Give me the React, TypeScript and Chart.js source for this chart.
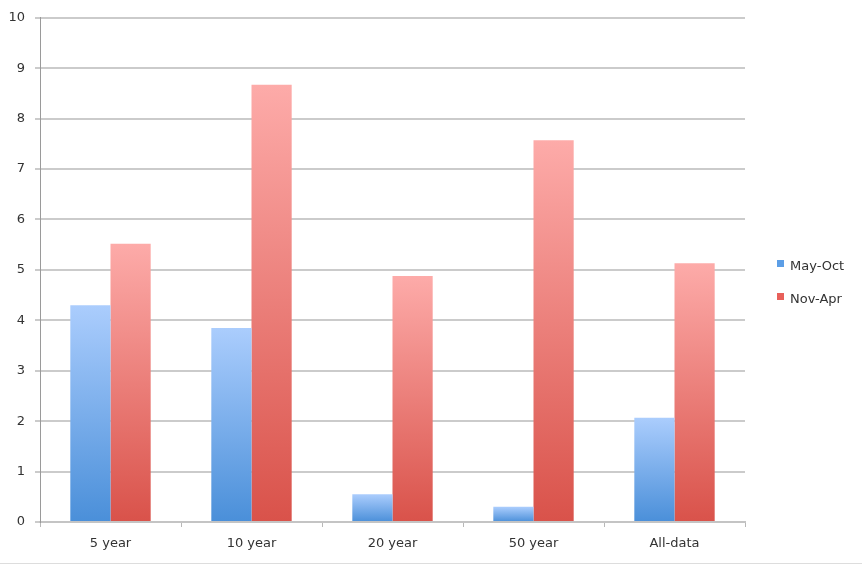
import React, { useEffect, useRef } from "react";
import { Chart, registerables } from "chart.js";

Chart.register(...registerables);

const categories = ["5 year", "10 year", "20 year", "50 year", "All-data"];
const mayOct = [4.3, 3.85, 0.55, 0.3, 2.07];
const novApr = [5.52, 8.67, 4.88, 7.57, 5.13];
const seriesNames = ["May-Oct", "Nov-Apr"];
const yTicksMax = 10;

const FONT = "'DejaVu Sans', sans-serif";

function gradientFill(top: string, bottom: string, solid: string) {
  return (ctx: any) => {
    const chart = ctx.chart;
    const area = chart.chartArea;
    const ys = chart.scales && chart.scales.y;
    if (!area || !ys || ctx.type !== "data") return solid;
    const v = ctx.raw as number;
    const yTop = ys.getPixelForValue(v);
    const yBot = ys.getPixelForValue(0);
    if (!isFinite(yTop) || !isFinite(yBot) || yTop === yBot) return solid;
    const g = chart.ctx.createLinearGradient(0, yTop, 0, yBot);
    g.addColorStop(0, top);
    g.addColorStop(1, bottom);
    return g;
  };
}

const legendColors = ["#5c9ee6", "#e8605a"];

const legendPlugin = {
  id: "customLegend",
  afterDraw(chart: any) {
    const c = chart.ctx;
    c.save();
    c.font = `13px ${FONT}`;
    c.textBaseline = "middle";
    c.textAlign = "left";
    const items = [
      { y: 267, name: seriesNames[0], color: legendColors[0] },
      { y: 300, name: seriesNames[1], color: legendColors[1] },
    ];
    for (const it of items) {
      c.fillStyle = it.color;
      c.fillRect(777, it.y - 7, 7, 7);
      c.fillStyle = "#333333";
      c.fillText(it.name, 790, it.y);
    }
    c.strokeStyle = "#dddddd";
    c.lineWidth = 1;
    c.beginPath();
    c.moveTo(0, 563.5);
    c.lineTo(chart.width, 563.5);
    c.stroke();
    c.restore();
  },
};

export default function App() {
  const ref = useRef<HTMLCanvasElement>(null);
  useEffect(() => {
    if (!ref.current) return;
    const chart = new Chart(ref.current, {
      type: "bar",
      data: {
        labels: categories,
        datasets: [
          {
            label: seriesNames[0],
            data: mayOct,
            backgroundColor: gradientFill("#abcdfd", "#4a8fd9", legendColors[0]),
            borderWidth: 0,
            categoryPercentage: 0.57,
            barPercentage: 1,
          },
          {
            label: seriesNames[1],
            data: novApr,
            backgroundColor: gradientFill("#fdaba9", "#d9524a", legendColors[1]),
            borderWidth: 0,
            categoryPercentage: 0.57,
            barPercentage: 1,
          },
        ],
      },
      options: {
        animation: false,
        responsive: true,
        maintainAspectRatio: false,
        layout: { padding: { top: 17, right: 117, left: 0, bottom: 0 } },
        plugins: { legend: { display: false }, tooltip: { enabled: false } },
        scales: {
          x: {
            afterFit: (s: any) => {
              s.height = 42;
            },
            grid: {
              display: true,
              drawOnChartArea: false,
              offset: true,
              tickLength: 5,
              color: "#b8b8b8",
              lineWidth: 1,
            },
            border: { display: true, color: "#c4c4c4", width: 2 },
            ticks: { color: "#333333", font: { family: FONT, size: 13 }, padding: 9 },
          },
          y: {
            min: 0,
            max: yTicksMax,
            afterFit: (s: any) => {
              s.width = 40;
            },
            grid: { color: "#cbcbcb", lineWidth: 2, tickLength: 5 },
            border: { display: true, color: "#9a9a9a", width: 1 },
            ticks: {
              stepSize: 1,
              color: "#333333",
              font: { family: FONT, size: 13 },
              padding: 10,
            },
          },
        },
      },
      plugins: [legendPlugin],
    });
    return () => chart.destroy();
  }, []);
  return (
    <div style={{ position: "absolute", left: 0, top: 0, width: 862, height: 564, background: "#fff" }}>
      <canvas ref={ref} />
    </div>
  );
}
